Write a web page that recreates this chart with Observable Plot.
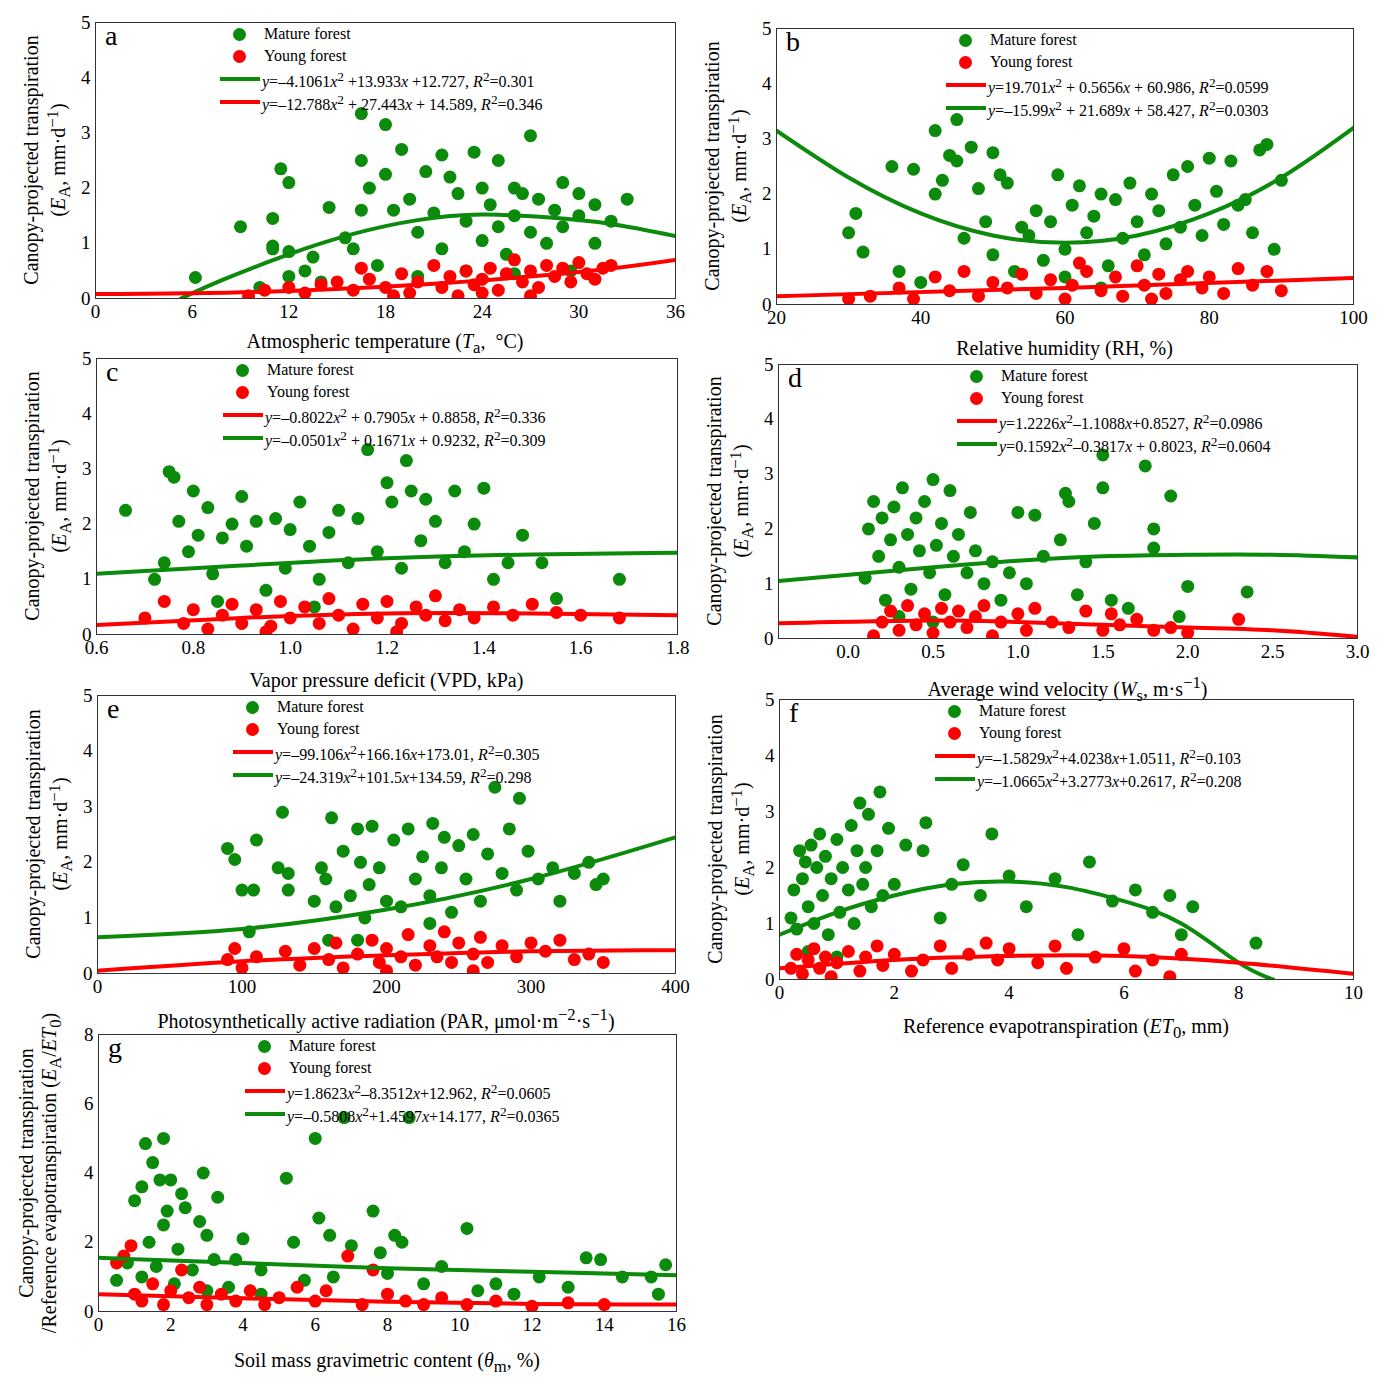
<!DOCTYPE html>
<html><head><meta charset="utf-8">
<script src="https://cdn.jsdelivr.net/npm/d3@7"></script>
<script src="https://cdn.jsdelivr.net/npm/@observablehq/plot@0.6"></script>
<style>
body{margin:0;background:#fff;font-family:"Liberation Serif",serif;}
#root{position:relative;width:1385px;height:1386px;}
.abs{position:absolute;white-space:nowrap;}
.lbl{font-size:20px;}
.leg{font-size:16px;}
.dotL{position:absolute;width:13px;height:13px;border-radius:50%;}
.lineL{position:absolute;height:4px;width:40px;}
.let{font-size:28px;}
</style></head><body><div id="root"></div>
<script>
const GREEN="#0b8a0b", RED="#ff0000";
// Panel a: temperature
const aMature=[[6.2,0.38],[9,1.3],[10.2,0.2],[11,1.45],[11,0.95],[11,0.9],[12,0.85],[12,0.4],[11.5,2.35],[12,2.1],[13,0.5],[13.5,0.75],[14.5,1.65],[15.5,1.1],[16,0.9],[16.5,1.6],[16.5,2.5],[16.5,3.35],[17,2.0],[17.5,0.6],[18,2.25],[18,3.15],[18.5,1.6],[19,2.7],[19.5,1.8],[20,1.2],[20.5,2.3],[21,1.55],[21.5,2.6],[21.5,0.9],[22,2.2],[22.5,1.9],[23,1.4],[23.5,2.65],[24,2.0],[24,1.05],[24.5,1.7],[25,2.5],[25,1.3],[25.5,0.8],[26,2.0],[26,1.5],[26.5,1.9],[27,2.95],[27,1.2],[27.5,1.8],[28,1.0],[28.5,1.6],[29,2.1],[29,1.3],[29.5,0.5],[30,1.9],[30,1.5],[31,1.7],[31,1.0],[32,1.4],[33,1.8],[23,0.5],[20,0.4],[26,0.45],[14,0.3]];
const aYoung=[[9.5,0.05],[10.5,0.15],[12,0.2],[13,0.1],[14,0.25],[15,0.3],[16,0.15],[16.5,0.55],[17,0.35],[18,0.2],[19,0.45],[19.5,0.1],[20,0.3],[21,0.6],[21.5,0.2],[22,0.4],[22.5,0.05],[23,0.5],[23.5,0.25],[24,0.35],[24.5,0.55],[25,0.15],[25.5,0.45],[26,0.7],[26.5,0.3],[27,0.5],[27.5,0.2],[28,0.6],[28.5,0.4],[29,0.55],[29.5,0.3],[30,0.65],[30.5,0.45],[31,0.35],[31.5,0.55],[32,0.6],[18.5,0.05],[24,0.1],[27,0.05]];
const aGreenFit=[[5.3,0],[8,0.35],[12,0.8],[16,1.17],[20,1.42],[24,1.52],[28,1.47],[32,1.35],[36,1.13]];
const aRedFit=[[0,0.08],[10,0.12],[20,0.25],[30,0.48],[36,0.7]];
// Panel b: RH
const bMature=[[30,1.3],[31,1.65],[32,0.95],[36,2.5],[37,0.6],[39,2.45],[40,0.4],[42,3.15],[42,2.0],[43,2.25],[44,2.7],[45,3.35],[45,2.6],[46,1.2],[47,2.85],[48,2.1],[49,1.5],[50,2.75],[50,0.9],[51,2.35],[52,2.2],[53,0.6],[54,1.4],[55,1.25],[56,1.7],[57,0.8],[58,1.5],[59,2.35],[60,1.0],[61,1.8],[62,2.15],[63,1.3],[64,1.6],[65,2.0],[66,0.7],[67,1.9],[68,1.2],[69,2.2],[70,1.5],[71,0.9],[72,2.0],[73,1.7],[74,1.1],[75,2.35],[76,1.4],[77,2.5],[78,1.8],[79,1.25],[80,2.65],[81,2.05],[82,1.45],[83,2.6],[84,1.8],[85,1.9],[86,1.3],[87,2.8],[88,2.9],[90,2.25],[89,1.0],[60,0.5],[65,0.3]];
const bYoung=[[30,0.1],[33,0.15],[37,0.3],[39,0.1],[42,0.5],[44,0.25],[46,0.6],[48,0.15],[50,0.4],[52,0.3],[54,0.55],[56,0.2],[58,0.45],[60,0.1],[61,0.35],[63,0.6],[65,0.25],[67,0.5],[68,0.15],[70,0.7],[71,0.35],[73,0.55],[74,0.2],[76,0.45],[77,0.6],[79,0.3],[80,0.5],[82,0.2],[84,0.65],[86,0.35],[88,0.6],[90,0.25],[62,0.75],[72,0.1]];
const bGreenFit=[[20,3.15],[30,2.3],[40,1.65],[50,1.25],[60,1.12],[70,1.25],[80,1.65],[90,2.3],[100,3.2]];
const bRedFit=[[20,0.15],[60,0.3],[100,0.48]];
// Panel c: VPD
const cMature=[[0.66,2.25],[0.72,1.0],[0.74,1.3],[0.75,2.95],[0.76,2.85],[0.77,2.05],[0.79,1.5],[0.8,2.6],[0.81,1.8],[0.83,2.3],[0.84,1.1],[0.86,1.75],[0.88,2.0],[0.9,2.5],[0.91,1.6],[0.93,2.05],[0.95,0.8],[0.97,2.1],[0.99,1.2],[1.0,1.9],[1.02,2.4],[1.04,1.6],[1.06,1.0],[1.08,1.85],[1.1,2.25],[1.12,1.3],[1.14,2.1],[1.16,3.35],[1.18,1.5],[1.2,2.75],[1.21,2.4],[1.23,1.2],[1.24,3.15],[1.25,2.6],[1.27,1.7],[1.28,2.45],[1.3,2.05],[1.32,1.3],[1.34,2.6],[1.36,1.5],[1.38,2.0],[1.4,2.65],[1.42,1.0],[1.45,1.3],[1.48,1.8],[1.52,1.3],[1.55,0.65],[1.68,1.0],[0.85,0.6],[1.05,0.5]];
const cYoung=[[0.7,0.3],[0.74,0.6],[0.78,0.2],[0.8,0.45],[0.83,0.1],[0.86,0.35],[0.88,0.55],[0.9,0.2],[0.93,0.45],[0.96,0.15],[0.98,0.6],[1.0,0.3],[1.03,0.5],[1.06,0.2],[1.08,0.65],[1.1,0.35],[1.13,0.1],[1.15,0.55],[1.18,0.3],[1.2,0.6],[1.23,0.2],[1.26,0.5],[1.28,0.35],[1.3,0.7],[1.32,0.25],[1.35,0.45],[1.38,0.3],[1.42,0.5],[1.46,0.35],[1.5,0.55],[1.55,0.4],[1.6,0.35],[1.68,0.3],[1.22,0.05],[0.95,0.05]];
const cGreenFit=[[0.6,1.1],[0.9,1.25],[1.2,1.38],[1.5,1.45],[1.8,1.48]];
const cRedFit=[[0.6,0.17],[0.9,0.3],[1.2,0.38],[1.5,0.38],[1.8,0.35]];
// Panel d: wind
const dMature=[[0.1,1.1],[0.12,2.0],[0.15,2.5],[0.18,1.5],[0.2,2.2],[0.22,0.7],[0.25,1.8],[0.27,2.4],[0.3,1.3],[0.32,2.75],[0.35,1.9],[0.37,0.9],[0.4,2.2],[0.42,1.6],[0.45,2.5],[0.48,1.2],[0.5,2.9],[0.52,1.7],[0.55,2.1],[0.57,0.8],[0.6,2.7],[0.62,1.5],[0.65,1.9],[0.7,1.2],[0.72,2.3],[0.75,1.6],[0.8,1.0],[0.85,1.4],[0.9,0.7],[0.95,1.2],[1.0,2.3],[1.05,1.0],[1.1,2.25],[1.15,1.5],[1.25,1.8],[1.28,2.65],[1.3,2.5],[1.35,0.8],[1.4,1.4],[1.45,2.1],[1.5,3.35],[1.5,2.75],[1.55,0.7],[1.65,0.55],[1.75,3.15],[1.8,1.65],[1.8,2.0],[1.9,2.6],[1.95,0.4],[2.0,0.95],[2.35,0.85],[0.3,0.4],[0.5,0.3]];
const dYoung=[[0.15,0.05],[0.2,0.3],[0.25,0.5],[0.3,0.15],[0.35,0.6],[0.4,0.25],[0.45,0.45],[0.5,0.1],[0.55,0.55],[0.6,0.3],[0.65,0.5],[0.7,0.2],[0.75,0.4],[0.8,0.6],[0.9,0.3],[1.0,0.45],[1.05,0.15],[1.1,0.55],[1.2,0.3],[1.3,0.2],[1.4,0.5],[1.5,0.15],[1.55,0.45],[1.6,0.25],[1.7,0.35],[1.8,0.15],[1.9,0.2],[2.0,0.1],[2.3,0.35],[0.85,0.05]];
const dGreenFit=[[-0.41,1.05],[0.5,1.3],[1.0,1.42],[1.5,1.5],[2.0,1.53],[2.5,1.53],[3.0,1.48]];
const dRedFit=[[-0.41,0.28],[0.5,0.33],[1.0,0.3],[1.5,0.25],[2.0,0.2],[2.5,0.15],[3.0,0.03]];
// Panel e: PAR
const eMature=[[90,2.25],[95,2.05],[100,1.5],[105,0.75],[108,1.5],[110,2.4],[125,1.9],[128,2.9],[132,1.5],[132,1.8],[150,1.3],[155,1.9],[158,1.7],[160,0.6],[162,2.8],[165,1.2],[170,2.2],[175,1.4],[180,2.6],[182,2.0],[185,1.0],[188,1.6],[190,2.65],[195,1.9],[200,1.3],[205,2.4],[210,1.2],[215,2.6],[220,1.7],[225,2.1],[230,1.4],[232,2.7],[238,1.9],[240,2.45],[245,1.1],[250,2.3],[255,1.7],[260,2.5],[265,1.3],[270,2.15],[275,3.35],[280,1.8],[285,2.6],[290,1.5],[292,3.15],[298,2.2],[305,1.7],[315,1.9],[320,1.3],[330,1.8],[340,2.0],[345,1.6],[350,1.7],[230,0.9],[180,0.6]];
const eYoung=[[90,0.25],[95,0.45],[100,0.1],[110,0.3],[130,0.4],[140,0.15],[150,0.45],[160,0.25],[165,0.55],[170,0.1],[180,0.35],[190,0.6],[195,0.2],[200,0.45],[210,0.3],[215,0.7],[220,0.15],[230,0.5],[235,0.3],[240,0.75],[245,0.2],[250,0.55],[260,0.35],[265,0.65],[270,0.2],[280,0.5],[290,0.3],[300,0.55],[310,0.4],[320,0.6],[330,0.25],[340,0.35],[350,0.2],[200,0.05],[260,0.05]];
const eGreenFit=[[0,0.65],[100,0.8],[200,1.15],[300,1.7],[400,2.45]];
const eRedFit=[[0,0.05],[100,0.22],[200,0.33],[300,0.4],[400,0.42]];
// Panel f: ET0
const fMature=[[0.2,1.1],[0.25,1.6],[0.3,0.9],[0.35,2.3],[0.4,1.8],[0.45,2.1],[0.5,1.3],[0.55,2.4],[0.6,1.0],[0.65,2.0],[0.7,2.6],[0.75,1.5],[0.8,2.2],[0.85,0.8],[0.9,1.8],[1.0,2.5],[1.05,1.2],[1.1,2.0],[1.2,1.6],[1.25,2.75],[1.3,1.0],[1.35,2.3],[1.4,3.15],[1.45,1.7],[1.5,2.0],[1.55,2.95],[1.6,1.3],[1.7,2.3],[1.75,3.35],[1.8,1.5],[1.9,2.7],[2.0,1.7],[2.2,2.4],[2.5,2.3],[2.55,2.8],[2.8,1.1],[3.0,1.7],[3.2,2.05],[3.5,1.5],[3.7,2.6],[4.0,1.85],[4.3,1.3],[4.8,1.8],[5.2,0.8],[5.4,2.1],[5.8,1.4],[6.2,1.6],[6.5,1.2],[6.8,1.5],[7.0,0.8],[7.2,1.3],[8.3,0.65],[0.5,0.5],[1.0,0.4]];
const fYoung=[[0.2,0.2],[0.3,0.45],[0.4,0.1],[0.5,0.35],[0.6,0.55],[0.7,0.2],[0.8,0.4],[0.9,0.05],[1.0,0.3],[1.2,0.5],[1.4,0.15],[1.5,0.4],[1.7,0.6],[1.8,0.25],[2.0,0.45],[2.3,0.15],[2.5,0.35],[2.8,0.6],[3.0,0.2],[3.3,0.45],[3.6,0.65],[3.8,0.35],[4.0,0.55],[4.5,0.3],[4.8,0.6],[5.0,0.2],[5.5,0.4],[6.0,0.55],[6.2,0.15],[6.5,0.35],[6.8,0.05],[7.0,0.45]];
const fGreenFit=[[0,0.8],[1,1.2],[2,1.5],[3,1.7],[4,1.75],[5,1.65],[6,1.4],[7,1.0],[8,0.3],[8.6,0]];
const fRedFit=[[0,0.2],[2,0.35],[4,0.42],[6,0.42],[8,0.3],[10,0.1]];
// Panel g: soil moisture
const gMature=[[0.5,0.9],[0.8,1.4],[1.0,3.2],[1.2,1.0],[1.2,3.6],[1.3,4.85],[1.4,2.0],[1.5,4.3],[1.6,1.3],[1.7,3.8],[1.8,5.0],[1.8,2.5],[1.9,2.9],[2.0,3.8],[2.1,0.8],[2.2,1.8],[2.3,3.4],[2.4,3.0],[2.6,1.2],[2.8,2.6],[2.9,4.0],[3.0,2.2],[3.2,1.5],[3.3,3.3],[3.6,0.7],[3.8,1.5],[4.0,2.1],[4.5,1.2],[5.2,3.85],[5.4,2.0],[5.7,0.9],[6.0,5.0],[6.1,2.7],[6.4,2.2],[6.8,5.6],[7.0,1.9],[7.6,2.9],[7.8,1.7],[8.2,2.2],[8.4,2.0],[8.6,5.6],[9.0,0.8],[9.5,1.3],[10.2,2.4],[10.5,0.6],[11.0,0.8],[11.5,0.5],[12.2,1.0],[13.0,0.7],[13.5,1.55],[13.9,1.5],[14.5,1.0],[15.3,1.0],[15.5,0.5],[15.7,1.35],[8.0,1.1],[6.5,1.0],[3.0,0.6],[4.5,0.5]];
const gYoung=[[0.5,1.4],[0.7,1.6],[0.9,1.9],[1.0,0.5],[1.2,0.3],[1.5,0.8],[1.8,0.2],[2.0,0.6],[2.3,1.2],[2.5,0.4],[2.8,0.7],[3.0,0.2],[3.4,0.5],[3.8,0.3],[4.2,0.6],[4.6,0.2],[5.0,0.4],[5.5,0.7],[6.0,0.3],[6.3,0.6],[6.9,1.6],[7.3,0.2],[7.6,1.2],[8.0,0.5],[8.5,0.3],[9.0,0.2],[9.5,0.4],[10.2,0.2],[11.0,0.3],[12.0,0.15],[13.0,0.25],[14.0,0.2]];
const gGreenFit=[[0,1.55],[4,1.4],[8,1.25],[12,1.15],[16,1.05]];
const gRedFit=[[0,0.5],[4,0.38],[8,0.28],[12,0.22],[16,0.2]];

const yLab1="Canopy-projected transpiration";
const yLabEA='(<i>E</i><sub>A</sub>, mm·d<sup>−1</sup>)';
const panels=[
 {id:"a",L:95,T:22,W:580,H:276,xd:[0,36],xt:[0,6,12,18,24,30,36],yd:[0,5],yt:[0,1,2,3,4,5],m:aMature,y:aYoung,gf:aGreenFit,rf:aRedFit,legX:145,
  eq:[["g",'<i>y</i>=–4.1061<i>x</i><sup>2</sup> +13.933<i>x</i> +12.727, <i>R</i><sup>2</sup>=0.301'],["r",'<i>y</i>=–12.788<i>x</i><sup>2</sup> + 27.443<i>x</i> + 14.589, <i>R</i><sup>2</sup>=0.346']],
  xl:'Atmospheric temperature (<i>T</i><sub>a</sub>,&nbsp; °C)',xly:44,yl:[yLab1,yLabEA]},
 {id:"b",L:776,T:28,W:577,H:276,xd:[20,100],xt:[20,40,60,80,100],yd:[0,5],yt:[0,1,2,3,4,5],m:bMature,y:bYoung,gf:bGreenFit,rf:bRedFit,legX:190,
  eq:[["r",'<i>y</i>=19.701<i>x</i><sup>2</sup> + 0.5656<i>x</i> + 60.986, <i>R</i><sup>2</sup>=0.0599'],["g",'<i>y</i>=–15.99<i>x</i><sup>2</sup> + 21.689<i>x</i> + 58.427, <i>R</i><sup>2</sup>=0.0303']],
  xl:'Relative humidity (RH, %)',xly:45,yl:[yLab1,yLabEA]},
 {id:"c",L:96,T:358,W:581,H:276,xd:[0.6,1.8],xt:[0.6,0.8,1.0,1.2,1.4,1.6,1.8],yd:[0,5],yt:[0,1,2,3,4,5],m:cMature,y:cYoung,gf:cGreenFit,rf:cRedFit,legX:147,fmt:d3.format(".1f"),
  eq:[["r",'<i>y</i>=–0.8022<i>x</i><sup>2</sup> + 0.7905<i>x</i> + 0.8858, <i>R</i><sup>2</sup>=0.336'],["g",'<i>y</i>=–0.0501<i>x</i><sup>2</sup> + 0.1671<i>x</i> + 0.9232, <i>R</i><sup>2</sup>=0.309']],
  xl:'Vapor pressure deficit (VPD, kPa)',xly:47,yl:[yLab1,yLabEA]},
 {id:"d",L:778,T:364,W:579,H:274,xd:[-0.41,3.0],xt:[0,0.5,1,1.5,2,2.5,3],yd:[0,5],yt:[0,1,2,3,4,5],m:dMature,y:dYoung,gf:dGreenFit,rf:dRedFit,legX:199,fmt:d3.format(".1f"),
  eq:[["r",'<i>y</i>=1.2226<i>x</i><sup>2</sup>–1.1088<i>x</i>+0.8527, <i>R</i><sup>2</sup>=0.0986'],["g",'<i>y</i>=0.1592<i>x</i><sup>2</sup>–0.3817<i>x</i> + 0.8023, <i>R</i><sup>2</sup>=0.0604']],
  xl:'Average wind velocity (<i>W</i><sub>s</sub>, m·s<sup>−1</sup>)',xly:47,yl:[yLab1,yLabEA]},
 {id:"e",L:97,T:695,W:578,H:278,xd:[0,400],xt:[0,100,200,300,400],yd:[0,5],yt:[0,1,2,3,4,5],m:eMature,y:eYoung,gf:eGreenFit,rf:eRedFit,legX:156,
  eq:[["r",'<i>y</i>=–99.106<i>x</i><sup>2</sup>+166.16<i>x</i>+173.01, <i>R</i><sup>2</sup>=0.305'],["g",'<i>y</i>=–24.319<i>x</i><sup>2</sup>+101.5<i>x</i>+134.59, <i>R</i><sup>2</sup>=0.298']],
  xl:'Photosynthetically active radiation (PAR, μmol·m<sup>−2</sup>·s<sup>−1</sup>)',xly:44,yl:[yLab1,yLabEA]},
 {id:"f",L:779,T:699,W:574,H:280,xd:[0,10],xt:[0,2,4,6,8,10],yd:[0,5],yt:[0,1,2,3,4,5],m:fMature,y:fYoung,gf:fGreenFit,rf:fRedFit,legX:176,
  eq:[["r",'<i>y</i>=–1.5829<i>x</i><sup>2</sup>+4.0238<i>x</i>+1.0511, <i>R</i><sup>2</sup>=0.103'],["g",'<i>y</i>=–1.0665<i>x</i><sup>2</sup>+3.2773<i>x</i>+0.2617, <i>R</i><sup>2</sup>=0.208']],
  xl:'Reference evapotranspiration (<i>ET</i><sub>0</sub>, mm)',xly:48,yl:[yLab1,yLabEA]},
 {id:"g",L:98,T:1034,W:578,H:277,xd:[0,16],xt:[0,2,4,6,8,10,12,14,16],yd:[0,8],yt:[0,2,4,6,8],m:gMature,y:gYoung,gf:gGreenFit,rf:gRedFit,legX:167,
  eq:[["r",'<i>y</i>=1.8623<i>x</i><sup>2</sup>–8.3512<i>x</i>+12.962, <i>R</i><sup>2</sup>=0.0605'],["g",'<i>y</i>=–0.5808<i>x</i><sup>2</sup>+1.4597<i>x</i>+14.177, <i>R</i><sup>2</sup>=0.0365']],
  xl:'Soil mass gravimetric content (<i>θ</i><sub>m</sub>, %)',xly:50,yl:[yLab1,'/Reference evapotranspiration (<i>E</i><sub>A</sub>/<i>ET</i><sub>0</sub>)']}
];
const root=document.getElementById("root");
function add(html,cls,x,y,extra=""){const d=document.createElement("div");d.className="abs "+cls;d.innerHTML=html;d.style.cssText+=`left:${x}px;top:${y}px;`+extra;root.appendChild(d);return d;}
for(const p of panels){
  const M=30;
  const svg=Plot.plot({width:p.W+2*M,height:p.H+M+10,marginLeft:M,marginRight:M,marginTop:10,marginBottom:M,
    style:{fontFamily:"Liberation Serif",fontSize:"19px",background:"transparent",overflow:"visible"},
    x:{domain:p.xd},
    y:{domain:p.yd},
    marks:[
      Plot.axisX({ticks:p.xt,tickFormat:p.fmt||(d=>String(d)),tickSize:0,tickPadding:6,fontSize:19,label:null}),
      Plot.axisY({ticks:p.yt,tickFormat:d=>String(d),tickSize:0,tickPadding:5,fontSize:19,label:null}),
      Plot.dot(p.m,{x:d=>d[0],y:d=>d[1],r:6.5,fill:GREEN,clip:true}),
      Plot.dot(p.y,{x:d=>d[0],y:d=>d[1],r:6.5,fill:RED,clip:true}),
      Plot.line(p.gf,{x:d=>d[0],y:d=>d[1],stroke:GREEN,strokeWidth:4,curve:"natural",clip:true}),
      Plot.line(p.rf,{x:d=>d[0],y:d=>d[1],stroke:RED,strokeWidth:4,curve:"natural",clip:true}),
      Plot.frame({stroke:"#333",strokeWidth:1})
    ]});
  svg.style.position="absolute";svg.style.left=(p.L-M)+"px";svg.style.top=(p.T-10)+"px";
  root.appendChild(svg);
  add(p.id,"let",p.L+10,p.T-2);
  const lx=p.L+p.legX;
  [["Mature forest",GREEN],["Young forest",RED]].forEach(([t,c],i)=>{
    const dy=p.T+13+i*22;
    const dt=document.createElement("div");dt.className="dotL";dt.style.cssText=`left:${lx-7}px;top:${dy-7}px;background:${c}`;root.appendChild(dt);
    add(t,"leg",lx+24,dy-10);
  });
  p.eq.forEach(([k,t],i)=>{
    const dy=p.T+57+i*23;
    const ln=document.createElement("div");ln.className="lineL";ln.style.cssText=`left:${lx-20}px;top:${dy-2}px;background:${k=="g"?GREEN:RED}`;root.appendChild(ln);
    add(t,"leg",lx+22,dy-10);
  });
  add(p.xl,"lbl",p.L+p.W/2,p.T+p.H+p.xly-12,"transform:translateX(-50%);");
  const cy=p.T+p.H/2;
  p.yl.forEach((t,i)=>{
    const off=p.yl[1].startsWith("/")?(i==0?72:46):(i==0?64:36);
    add(t,"lbl",p.L-off,cy,"transform:translate(-50%,-50%) rotate(-90deg);");
  });
}
</script></body></html>
